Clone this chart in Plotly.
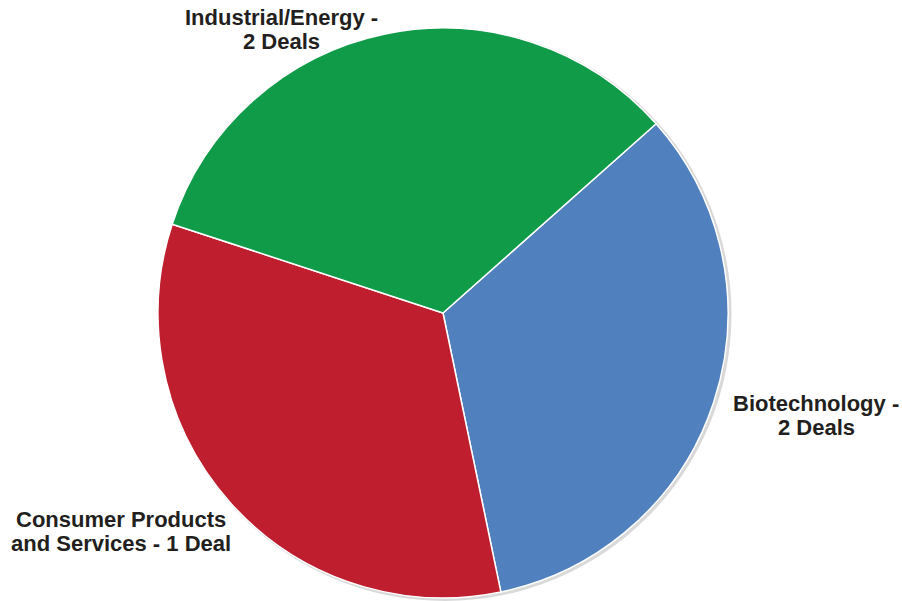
import plotly.graph_objects as go

sectors = ["Biotechnology", "Consumer Products and Services", "Industrial/Energy"]
shares = [33.3, 33.3, 33.4]
label_texts = ["Biotechnology -<br>2 Deals",
               "Consumer Products<br>and Services - 1 Deal",
               "Industrial/Energy -<br>2 Deals"]
colors = ["#5081BE", "#BE1E2D", "#0F9B48"]

W, H = 902, 601
cx, cy, r = 443, 313, 285


def dom(x0, y0, rad):
    return dict(x=[max(0, (x0 - rad) / W), min(1, (x0 + rad) / W)],
                y=[max(0, 1 - (y0 + rad) / H), min(1, 1 - (y0 - rad) / H)])


# soft drop shadow behind the pie
fig = go.Figure(go.Pie(
    values=[1], labels=["shadow"], sort=False,
    marker=dict(colors=["#d9d9d9"], line=dict(width=0)),
    textinfo="none", hoverinfo="skip", showlegend=False,
    domain=dom(cx + 2, cy + 1.5, r + 1.5),
))

fig.add_trace(go.Pie(
    labels=sectors,
    values=shares,
    sort=False,
    direction="clockwise",
    rotation=48.4,
    marker=dict(colors=colors, line=dict(color="white", width=1.5)),
    textinfo="none",
    hoverinfo="label",
    showlegend=False,
    domain=dom(cx, cy, r),
))

# (x centre, y centre of first line) in pixels
label_pos = [(816, 403.5), (121, 519), (281, 18)]
line_gap = 24
for txt, (x, y) in zip(label_texts, label_pos):
    for i, line in enumerate(txt.split("<br>")):
        fig.add_annotation(
            text=line, x=x / W, y=1 - (y + i * line_gap) / H,
            xref="paper", yref="paper",
            xanchor="center", yanchor="middle", showarrow=False, align="center",
            font=dict(family="Liberation Sans, Arial, sans-serif", size=22,
                      color="#231F20", weight="bold"),
        )

fig.update_layout(
    width=W, height=H,
    margin=dict(l=0, r=0, t=0, b=0),
    paper_bgcolor="white", plot_bgcolor="white",
)

fig.write_html("out.html")
